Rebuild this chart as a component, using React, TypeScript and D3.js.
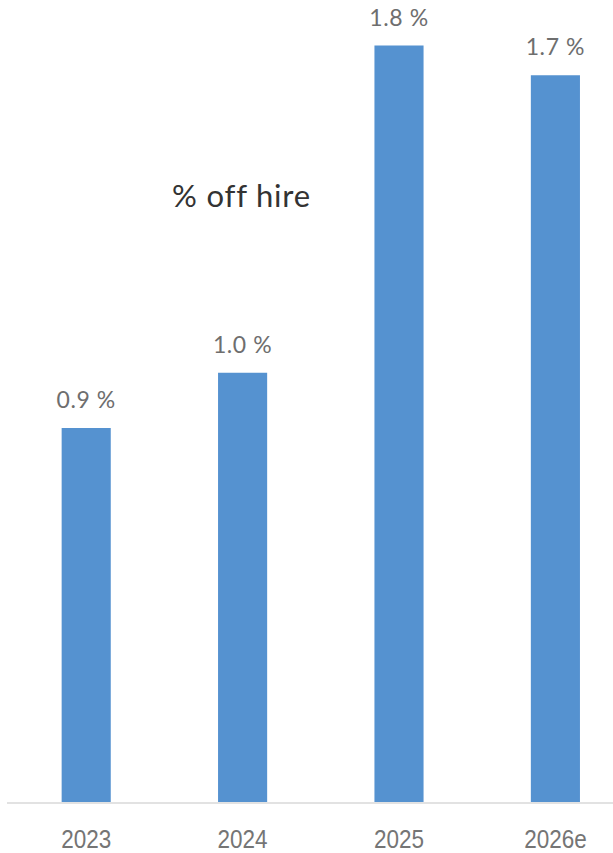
import React from "react";
import * as d3 from "d3";

const categories = ["2023", "2024", "2025", "2026e"];
const values = [0.88, 1.01, 1.78, 1.71];
const valueLabels = ["0.9 %", "1.0 %", "1.8 %", "1.7 %"];
const title = "% off hire";

export default function App() {
  const W = 613, H = 853;
  const baseY = 802;
  const x = d3.scaleBand<string>().domain(categories).range([8, 633.6]).paddingInner(0.686).paddingOuter(0.343);
  const y = d3.scaleLinear().domain([0, 2]).range([baseY, baseY - 850]);
  const barColor = "#5592D0";
  return (
    <svg width={W} height={H} style={{ position: "absolute", left: 0, top: 0, background: "#fff" }}>
      {categories.map((c, i) => {
        const cx = (x(c) as number) + x.bandwidth() / 2;
        return (
          <g key={c}>
            <rect x={x(c)} y={y(values[i])} width={x.bandwidth()} height={y(0) - y(values[i])} fill={barColor} />
            <text x={cx} y={y(values[i]) - 20} textAnchor="middle"
              fontFamily="Lato, sans-serif" fontSize={23} letterSpacing={0.6} fill="#6e6e6e">{valueLabels[i]}</text>
            <g transform={`translate(${cx},848) scale(0.9,1)`}>
              <text x={0} y={0} textAnchor="middle"
                fontFamily="'Liberation Sans', Arial, sans-serif" fontSize={25} fill="#757575">{c}</text>
            </g>
          </g>
        );
      })}
      <line x1={7} x2={613} y1={baseY + 1} y2={baseY + 1} stroke="#D9D9D9" strokeWidth={1.5} />
      <text x={241.5} y={207} textAnchor="middle" fontFamily="Lato, sans-serif" fontSize={31} letterSpacing={0.8} fill="#333">{title}</text>
    </svg>
  );
}
